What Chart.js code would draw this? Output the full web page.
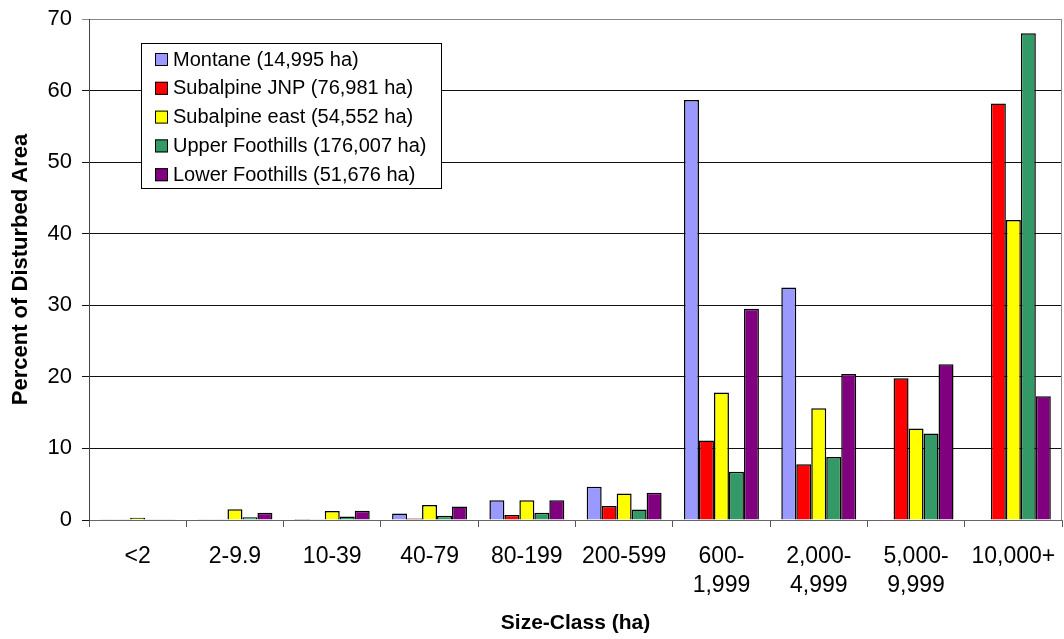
<!DOCTYPE html>
<html>
<head>
<meta charset="utf-8">
<script src="https://cdn.jsdelivr.net/npm/chart.js@4/dist/chart.umd.min.js"></script>
<style>
  html, body { margin: 0; padding: 0; background: #fff; }
  #wrap { width: 1064px; height: 639px; }
</style>
</head>
<body>
<div id="wrap"><canvas id="chart" width="1064" height="639"></canvas></div>
<script>
// ===== data =====
const sizeClasses = ["<2", "2-9.9", "10-39", "40-79", "80-199", "200-599",
  ["600-", "1,999"], ["2,000-", "4,999"], ["5,000-", "9,999"], "10,000+"];

const seriesNames = ["Montane (14,995 ha)", "Subalpine JNP (76,981 ha)", "Subalpine east (54,552 ha)",
  "Upper Foothills (176,007 ha)", "Lower Foothills (51,676 ha)"];
const seriesColors = ["#9999FF", "#FF0000", "#FFFF00", "#339966", "#800080"];

const montane        = [0.1, 0.05, 0.15, 0.9, 2.75, 4.65, 58.7, 32.5, 0, 0];
const subalpineJNP   = [0.05, 0.05, 0.05, 0.2, 0.7, 1.95, 11.1, 7.8, 19.8, 58.2];
const subalpineEast  = [0.3, 1.5, 1.25, 2.1, 2.75, 3.7, 17.8, 15.6, 12.8, 41.9];
const upperFoothills = [0.1, 0.4, 0.5, 0.6, 1.0, 1.45, 6.75, 8.8, 12.1, 68.0];
const lowerFoothills = [0.1, 1.0, 1.3, 1.9, 2.75, 3.8, 29.5, 20.4, 21.75, 17.3];

const yTicks = [0, 10, 20, 30, 40, 50, 60, 70];

const allSeries = [montane, subalpineJNP, subalpineEast, upperFoothills, lowerFoothills];

const FONT = "'Liberation Sans', Arial, sans-serif";

// legend box drawn inside the plot + gray frame on the right
const boxLegend = {
  id: "boxLegend",
  afterDraw(chart) {
    const ctx = chart.ctx;
    const a = chart.chartArea;
    ctx.save();
    // right frame line
    ctx.strokeStyle = "#888";
    ctx.lineWidth = 1;
    ctx.beginPath();
    ctx.moveTo(Math.round(a.right) - 0.5, a.top);
    ctx.lineTo(Math.round(a.right) - 0.5, a.bottom);
    ctx.stroke();

    const x0 = 141, y0 = 43, w = 300, h = 145;
    ctx.fillStyle = "#fff";
    ctx.fillRect(x0, y0, w, h);
    ctx.strokeStyle = "#000";
    ctx.strokeRect(x0 + 0.5, y0 + 0.5, w, h);
    ctx.font = "20px " + FONT;
    ctx.textBaseline = "middle";
    chart.data.datasets.forEach((ds, i) => {
      const cy = y0 + 16 + i * 28.8;
      ctx.fillStyle = ds.backgroundColor;
      ctx.fillRect(x0 + 14, cy - 6, 13, 13);
      ctx.strokeRect(x0 + 14.5, cy - 5.5, 12, 12);
      ctx.fillStyle = "#000";
      ctx.fillText(ds.label, x0 + 32, cy + 1);
    });
    ctx.restore();
  }
};

new Chart(document.getElementById("chart"), {
  type: "bar",
  data: {
    labels: sizeClasses,
    datasets: allSeries.map((vals, i) => ({
      label: seriesNames[i],
      data: vals,
      backgroundColor: seriesColors[i],
      borderColor: "#000",
      borderWidth: 1.5,
      borderSkipped: "start",
      categoryPercentage: 0.77,
      barPercentage: 1.0
    }))
  },
  options: {
    responsive: false,
    animation: false,
    layout: { padding: { top: 19, right: 2, left: 0, bottom: 0 } },
    plugins: {
      legend: { display: false },
      tooltip: { enabled: false }
    },
    scales: {
      x: {
        grid: { display: true, drawOnChartArea: false, drawTicks: true, tickLength: 7, color: "#555", offset: true },
        border: { color: "#666", width: 1 },
        ticks: {
          color: "#000",
          maxRotation: 0,
          autoSkip: false,
          padding: 15,
          font: { family: FONT, size: 23, lineHeight: 1.26 }
        },
        title: {
          display: true,
          text: "Size-Class (ha)",
          color: "#000",
          padding: { top: 0, bottom: 3 },
          font: { family: FONT, size: 21, weight: "bold" }
        },
        afterFit(scale) {
          scale.height = 119;
          scale.paddingLeft = 0;
          scale.paddingRight = 0;
        }
      },
      y: {
        min: 0,
        max: 70,
        afterBuildTicks(scale) { scale.ticks = yTicks.map(v => ({ value: v })); },
        grid: {
          color: ctx => (ctx.tick && ctx.tick.value === 70 ? "#888" : "#111"),
          lineWidth: 1,
          tickLength: 7
        },
        border: { color: "#444", width: 1 },
        ticks: {
          color: "#000",
          padding: 10,
          font: { family: FONT, size: 22 }
        },
        title: {
          display: true,
          text: "Percent of Disturbed Area",
          color: "#000",
          padding: { top: 8, bottom: 0 },
          font: { family: FONT, size: 22, weight: "bold" }
        },
        afterFit(scale) {
          scale.width = 89;
          scale.paddingTop = 0;
          scale.paddingBottom = 0;
        }
      }
    }
  },
  plugins: [boxLegend]
});
</script>
</body>
</html>
